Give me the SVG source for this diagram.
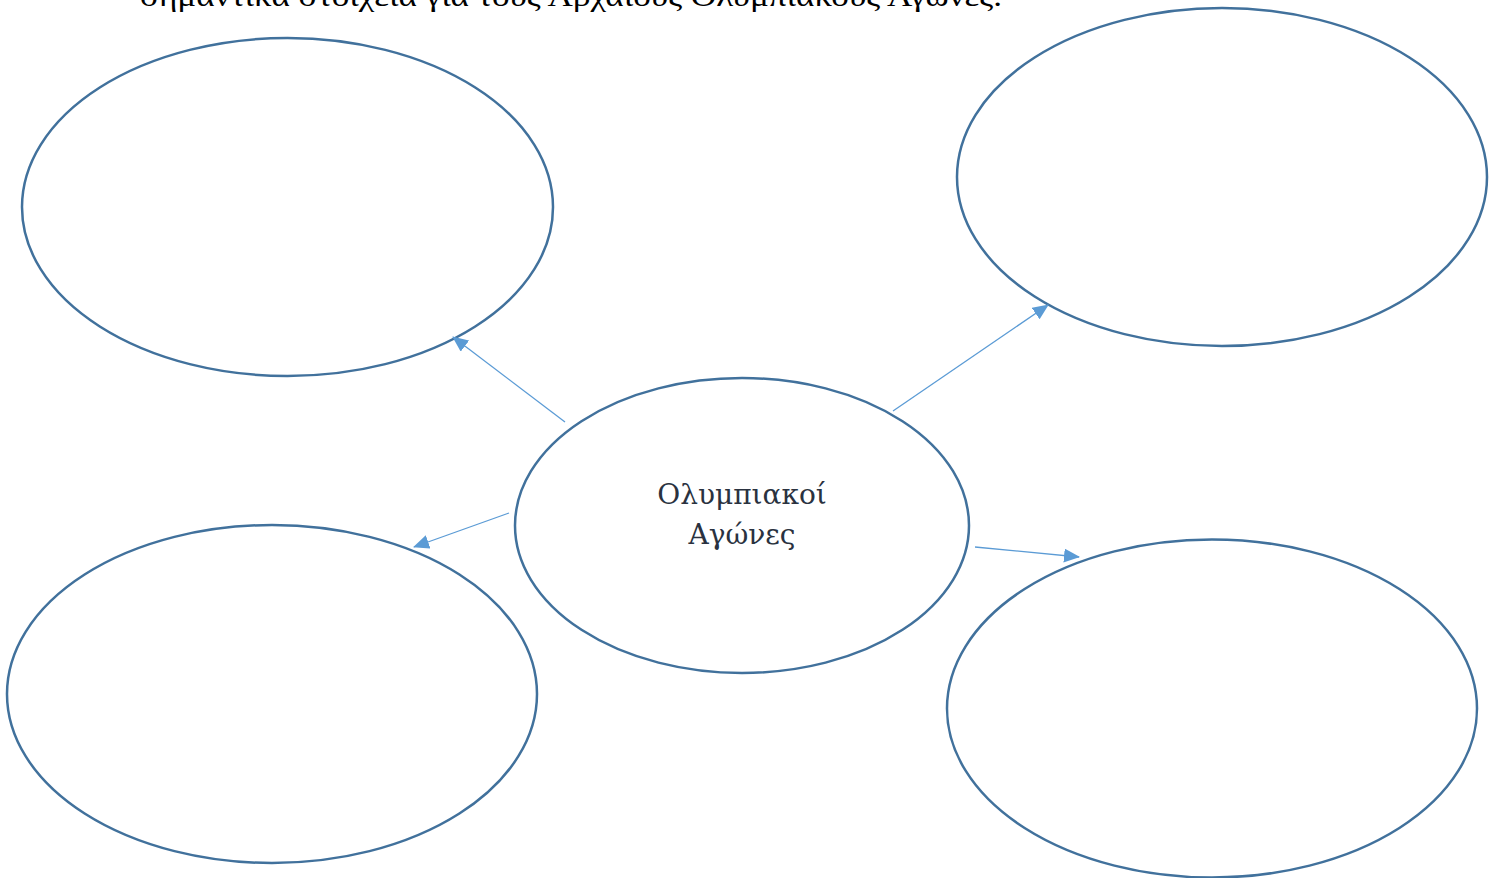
<svg xmlns="http://www.w3.org/2000/svg" width="1498" height="878" viewBox="0 0 1498 878">
<style>
.node{fill:#ffffff;stroke:#41719c;stroke-width:2.5}
.conn{stroke:#5b9bd5;stroke-width:1.3;fill:none}
.lbl{font-family:"DejaVu Serif","Liberation Serif",serif;font-size:28px;fill:#2a3240;text-anchor:middle}
.title{font-family:"Liberation Serif",serif;font-size:30px;fill:#000}
</style>
<defs>
<marker id="ah" markerUnits="userSpaceOnUse" markerWidth="16" markerHeight="14" refX="15" refY="7" orient="auto">
<path d="M0,0 L16,7 L0,14 Z" fill="#5b9bd5"/>
</marker>
</defs>
<rect width="1498" height="878" fill="#ffffff"/>
<text class="title" x="140" y="6" textLength="862" lengthAdjust="spacingAndGlyphs">σημαντικά στοιχεία για τους Αρχαίους Ολυμπιακούς Αγώνες.</text>
<g id="node-topleft"><ellipse class="node" cx="287.5" cy="207" rx="265.5" ry="169"/></g>
<g id="node-topright"><ellipse class="node" cx="1222" cy="177" rx="265" ry="169"/></g>
<g id="node-bottomleft"><ellipse class="node" cx="272" cy="694" rx="265" ry="169"/></g>
<g id="node-bottomright"><ellipse class="node" cx="1212" cy="708.5" rx="265" ry="169"/></g>
<g id="node-center"><ellipse class="node" cx="742" cy="525.5" rx="227" ry="147.5"/>
<text class="lbl" x="742" y="504">Ολυμπιακοί</text>
<text class="lbl" x="742" y="544">Αγώνες</text>
</g>
<g id="connectors">
<line class="conn" x1="565" y1="422" x2="453" y2="337" marker-end="url(#ah)"/>
<line class="conn" x1="509" y1="513" x2="414" y2="547" marker-end="url(#ah)"/>
<line class="conn" x1="893" y1="411" x2="1048" y2="305" marker-end="url(#ah)"/>
<line class="conn" x1="975" y1="547" x2="1079" y2="557" marker-end="url(#ah)"/>
</g>
</svg>
